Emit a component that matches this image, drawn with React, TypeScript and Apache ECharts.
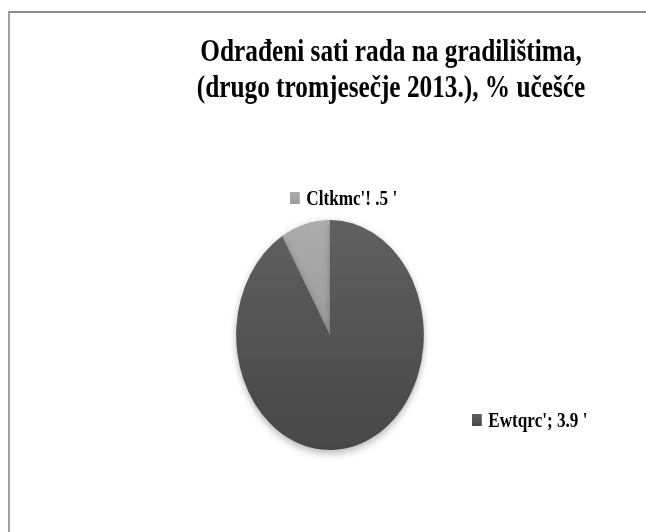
import React, { useEffect, useRef } from 'react';
import * as echarts from 'echarts';

// Data
const categories = ["Cltkmc'!", "Ewtqrc';"];
const values = [8.5, 91.5];
const valueLabels = [".5 '", "3.9 '"];
const titleLines = ['Odrađeni sati rada na gradilištima,', '(drugo tromjesečje 2013.), % učešće'];
const sliceTop = ['#acacac', '#606060'];
const sliceBottom = ['#9c9c9c', '#474747'];

// The reference picture is horizontally squeezed; reproduce with a uniform x-scale
const SX = 0.816;
const W = 646;
const H = 532;
const CW = Math.round(W / SX);
const px = (x: number) => x / SX; // page x -> chart x

const labelPos = [
  { x: px(290), y: 198 },
  { x: px(472), y: 420 },
];

export default function App() {
  const ref = useRef<HTMLDivElement>(null);
  useEffect(() => {
    if (!ref.current) return;
    const chart = echarts.init(ref.current, null, { renderer: 'svg' });
    const font = "'Liberation Serif', 'Times New Roman', serif";
    const rich: any = {
      t: { fontFamily: font, fontWeight: 'bold', fontSize: 21, color: '#000', padding: [0, 0, 0, 8] },
    };
    categories.forEach((_, i) => {
      rich['sq' + i] = {
        width: 12,
        height: 12,
        backgroundColor: new echarts.graphic.LinearGradient(0, 0, 0, 1, [
          { offset: 0, color: sliceTop[i] },
          { offset: 1, color: sliceBottom[i] },
        ]),
      };
    });
    const option: any = {
      animation: false,
      backgroundColor: '#ffffff',
      graphic: [
        {
          type: 'polyline',
          silent: true,
          shape: { points: [[px(9), H + 10], [px(9), 12], [CW + 10, 12]] },
          style: { stroke: '#8c8c8c', lineWidth: 2, fill: null },
        },
        {
          type: 'text',
          x: px(391),
          y: 51,
          style: {
            text: titleLines[0],
            font: `bold 31px ${font}`,
            fill: '#000',
            textAlign: 'center',
            textVerticalAlign: 'middle',
          },
        },
        {
          type: 'text',
          x: px(391),
          y: 87,
          style: {
            text: titleLines[1],
            font: `bold 31px ${font}`,
            fill: '#000',
            textAlign: 'center',
            textVerticalAlign: 'middle',
          },
        },
      ],
      series: [
        {
          type: 'pie',
          center: [px(330), 335],
          radius: 115,
          startAngle: 90,
          clockwise: false,
          silent: true,
          itemStyle: {
            borderWidth: 0,
            shadowBlur: 8,
            shadowOffsetY: 3,
            shadowColor: 'rgba(0,0,0,0.3)',
          },
          label: {
            show: true,
            formatter: (p: any) => `{sq${p.dataIndex}|}{t|${p.name} ${valueLabels[p.dataIndex]}}`,
            rich,
          },
          labelLine: { show: false },
          labelLayout: (p: any) => ({
            x: labelPos[p.dataIndex].x,
            y: labelPos[p.dataIndex].y,
            align: 'left',
            verticalAlign: 'middle',
          }),
          data: categories.map((name, i) => ({
            name,
            value: values[i],
            itemStyle: {
              color: new echarts.graphic.LinearGradient(0, 0, 0, 1, [
                { offset: 0, color: sliceTop[i] },
                { offset: 1, color: sliceBottom[i] },
              ]),
            },
          })),
        },
      ],
    };
    chart.setOption(option);
    return () => chart.dispose();
  }, []);
  return (
    <div style={{ position: 'fixed', left: 0, top: 0, width: W, height: H, overflow: 'hidden', background: '#fff' }}>
      <div
        ref={ref}
        style={{ width: CW, height: H, transform: `scaleX(${SX})`, transformOrigin: '0 0' }}
      />
    </div>
  );
}
